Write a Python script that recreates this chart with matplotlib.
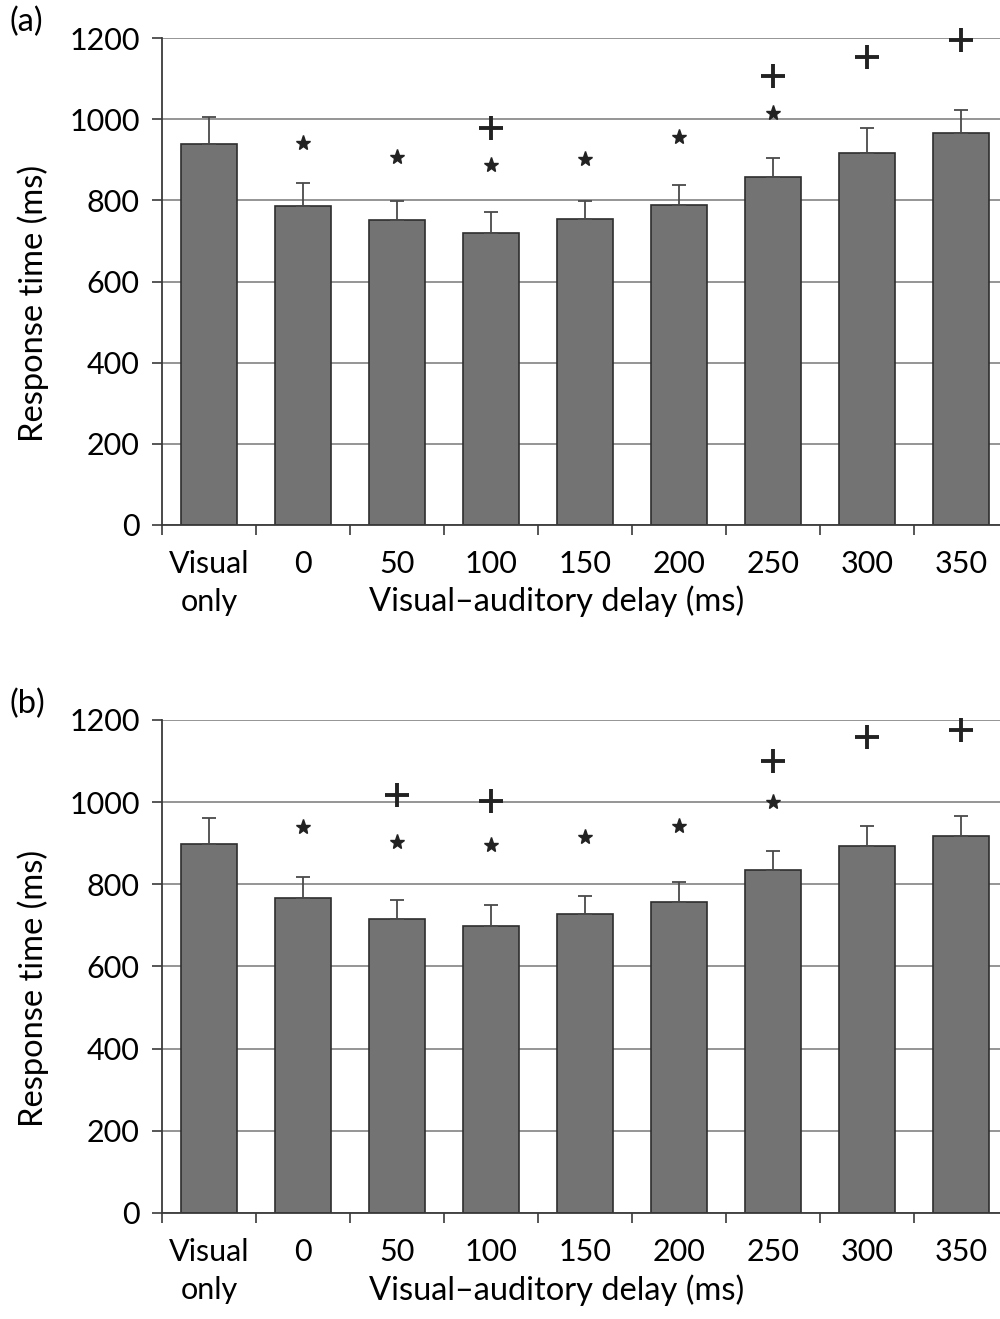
import matplotlib
matplotlib.use("Agg")
import matplotlib.pyplot as plt
import numpy as np

plt.rcParams['font.family'] = ['Lato', 'DejaVu Sans']

categories = ['Visual\nonly', '0', '50', '100', '150', '200', '250', '300', '350']

# panel (a)
mean_a = [939, 787, 752, 720, 755, 790, 858, 918, 967]
se_a = [66, 56, 47, 52, 44, 48, 47, 60, 55]
star_a = [np.nan, 942, 907, 888, 902, 957, 1016, np.nan, np.nan]
plus_a = [np.nan, np.nan, np.nan, 979, np.nan, np.nan, 1107, 1154, 1196]

# panel (b)
mean_b = [898, 766, 715, 698, 727, 756, 834, 893, 917]
se_b = [63, 51, 46, 51, 44, 49, 46, 48, 49]
star_b = [np.nan, 939, 902, 895, 915, 941, 1000, np.nan, np.nan]
plus_b = [np.nan, np.nan, 1017, 1002, np.nan, np.nan, 1100, 1158, 1176]

yticks = [0, 200, 400, 600, 800, 1000, 1200]

fig = plt.figure(figsize=(10, 13.19), dpi=100)
ax_a = fig.add_axes([0.162, 0.602, 0.846, 0.369])
ax_b = fig.add_axes([0.162, 0.0804, 0.846, 0.3738])

dark = '#3a3a3a'
fs = 22
lfs = 23.5


def draw(ax, means, se, stars, pluses, tag):
    x = np.arange(len(categories))
    ax.bar(x, means, width=0.6, color='#737373', edgecolor='#2e2e2e', linewidth=1.2, zorder=2)
    ax.errorbar(x, means, yerr=[np.zeros(len(se)), se], fmt='none', ecolor='#4a4a4a',
                elinewidth=1.3, capsize=5, capthick=1.3, zorder=3)
    ax.plot(x, stars, linestyle='none', marker='*', markersize=11, color='#222222',
            clip_on=False, zorder=4)
    ax.plot(x, pluses, linestyle='none', marker='+', markersize=17, markeredgewidth=2.8,
            color='#222222', clip_on=False, zorder=4)

    ax.set_xlim(-0.5, 8.5)
    ax.set_ylim(0, 1200)
    ax.set_yticks(yticks)
    ax.set_yticklabels([str(v) for v in yticks])
    ax.yaxis.grid(True, color='#8c8c8c', linewidth=1.3, zorder=0)
    ax.set_axisbelow(True)

    ax.set_xticks(np.arange(-0.5, 8.0, 1.0))
    ax.set_xticklabels([])
    ax.set_xticks(x, minor=True)
    ax.set_xticklabels(categories, minor=True, fontsize=fs, linespacing=1.45, va='top')
    ax.tick_params(axis='x', which='minor', length=0, pad=18)
    ax.tick_params(axis='x', which='major', length=7, width=1.2, color=dark, direction='out')
    ax.tick_params(axis='y', length=7, width=1.2, color=dark, labelsize=fs, pad=9)

    for s in ['top', 'right']:
        ax.spines[s].set_visible(False)
    for s in ['left', 'bottom']:
        ax.spines[s].set_color(dark)
        ax.spines[s].set_linewidth(1.3)

    ax.set_xlabel('Visual\u2013auditory delay (ms)', fontsize=lfs)
    ax.xaxis.set_label_coords(0.466, -0.125)
    ax.set_ylabel('Response time (ms)', fontsize=lfs)
    ax.yaxis.set_label_coords(-0.133, 0.456)
    ax.text(-0.18, 1.033, tag, transform=ax.transAxes, fontsize=lfs, ha='left', va='center')


draw(ax_a, mean_a, se_a, star_a, plus_a, '(a)')
draw(ax_b, mean_b, se_b, star_b, plus_b, '(b)')

fig.savefig('out.png', dpi=100)
